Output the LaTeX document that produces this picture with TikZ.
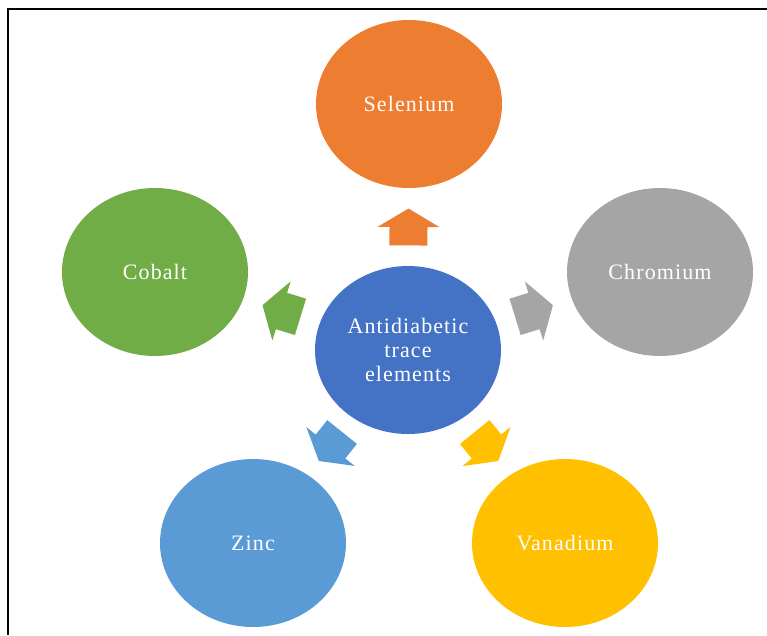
\documentclass[tikz,border=0pt]{standalone}
\usepackage{fontspec}
\usepackage{tikz}
\usetikzlibrary{calc,shapes.geometric}
\newfontfamily\elemfont[LetterSpace=5]{Liberation Serif}
\definecolor{selorange}{HTML}{ED7D31}
\definecolor{chrgray}{HTML}{A5A5A5}
\definecolor{cobgreen}{HTML}{70AD47}
\definecolor{zinblue}{HTML}{5B9BD5}
\definecolor{vangold}{HTML}{FFC000}
\definecolor{ctrblue}{HTML}{4472C4}

\begin{document}
\begin{tikzpicture}[x=1pt,y=-1pt,element/.style={
      ellipse,
      inner sep=0pt,
      minimum width=186pt,
      minimum height=168pt,
      text=white,
      align=center,
      font=\elemfont\fontsize{22}{24}\selectfont
    }]
\useasboundingbox (0,0) rectangle (767,635);
%\draw (0,0) rectangle (767,635);
\draw[line width=2.5pt] (767,9) -- (8,9) -- (8,635);
\node[element,fill=ctrblue] (ctr) at (408,350) {Antidiabetic\\trace\\elements};
\node[element,fill=selorange] (sel) at (409,104) {Selenium};
\node[element,fill=chrgray] (chr) at (660,272) {Chromium};
\node[element,fill=cobgreen] (cob) at (155,272) {Cobalt};
\node[element,fill=zinblue] (zin) at (253,543) {Zinc};
\node[element,fill=vangold] (van) at (565,543) {Vanadium};
\foreach \sat/\col in {sel/selorange,chr/chrgray,cob/cobgreen,zin/zinblue,van/vangold}{
  \coordinate (s0) at ($(ctr)!0.425!(\sat)$);
  \coordinate (h0) at ($(ctr)!0.50!(\sat)$);
  \coordinate (t0) at ($(ctr)!0.575!(\sat)$);
  \fill[\col] ($(s0)!19pt!90:(\sat)$) -- ($(h0)!19pt!90:(\sat)$)
    -- ($(h0)!31pt!90:(\sat)$) -- (t0) -- ($(h0)!31pt!-90:(\sat)$)
    -- ($(h0)!19pt!-90:(\sat)$) -- ($(s0)!19pt!-90:(\sat)$) -- cycle;
}
\end{tikzpicture}
\end{document}
